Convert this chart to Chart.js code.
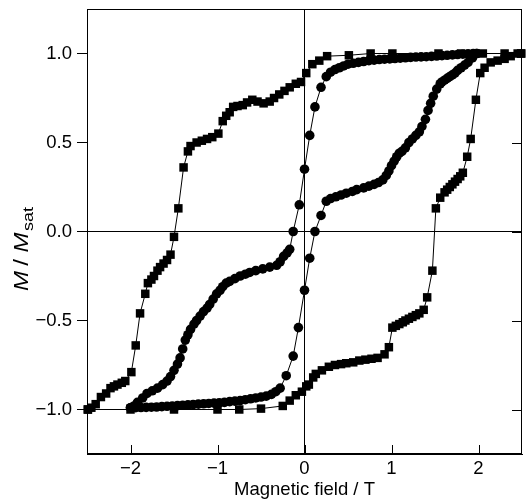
<!DOCTYPE html>
<html><head><meta charset="utf-8">
<script src="https://cdn.jsdelivr.net/npm/chart.js@4.4.1/dist/chart.umd.min.js"></script>
<style>html,body{margin:0;padding:0;background:#fff;}canvas{display:block;}</style>
</head><body>
<canvas id="c" width="528" height="501"></canvas>
<script>
// ---- tick values ----
const xTicks = [-2, -1, 0, 1, 2];
const yTicks = [-1, -0.5, 0, 0.5, 1];

// ---- squares: descending branch (field +2.5 -> -2.5) ----
const sqDownX = [2.49, 2.3, 2.05, 1.8, 1.54, 1.01, 0.76, 0.51, 0.26, 0.17, 0.09, 0.02, -0.04, -0.1, -0.17, -0.23, -0.29, -0.35, -0.4, -0.47, -0.54, -0.6, -0.66, -0.71, -0.77, -0.82, -0.86, -0.9, -0.94, -0.99, -1.06, -1.12, -1.18, -1.24, -1.31, -1.34, -1.39, -1.45, -1.5, -1.54, -1.58, -1.62, -1.66, -1.69, -1.73, -1.76, -1.8, -1.83, -1.89, -1.94, -1.99, -2.06, -2.1, -2.15, -2.19, -2.23, -2.28, -2.34, -2.4, -2.45, -2.49];
const sqDownY = [1.0, 1.0, 1.0, 1.0, 1.0, 1.0, 1.0, 0.99, 0.985, 0.96, 0.94, 0.89, 0.84, 0.83, 0.81, 0.79, 0.77, 0.75, 0.73, 0.72, 0.73, 0.74, 0.725, 0.71, 0.705, 0.70, 0.67, 0.65, 0.62, 0.55, 0.53, 0.52, 0.51, 0.50, 0.48, 0.45, 0.36, 0.13, -0.03, -0.13, -0.16, -0.18, -0.2, -0.22, -0.25, -0.27, -0.29, -0.35, -0.46, -0.64, -0.79, -0.84, -0.85, -0.86, -0.87, -0.88, -0.91, -0.93, -0.97, -0.99, -1.0];

// ---- squares: ascending branch (field -2.5 -> +2.5) ----
const sqUpX = [-2.49, -2.0, -1.5, -1.0, -0.75, -0.5, -0.25, -0.17, -0.1, -0.03, 0.02, 0.05, 0.1, 0.13, 0.2, 0.28, 0.35, 0.42, 0.48, 0.56, 0.63, 0.7, 0.77, 0.84, 0.92, 0.97, 1.01, 1.05, 1.09, 1.13, 1.16, 1.2, 1.24, 1.28, 1.32, 1.37, 1.41, 1.47, 1.51, 1.56, 1.61, 1.64, 1.67, 1.7, 1.73, 1.76, 1.79, 1.82, 1.87, 1.91, 1.97, 2.02, 2.07, 2.14, 2.22, 2.3, 2.37, 2.45, 2.49];
const sqUpY = [-1.0, -1.0, -1.0, -1.0, -1.0, -0.995, -0.98, -0.95, -0.92, -0.9, -0.87, -0.86, -0.82, -0.8, -0.78, -0.76, -0.75, -0.745, -0.74, -0.735, -0.725, -0.72, -0.715, -0.71, -0.69, -0.65, -0.54, -0.53, -0.52, -0.51, -0.5, -0.49, -0.48, -0.47, -0.46, -0.44, -0.37, -0.22, 0.13, 0.19, 0.22, 0.235, 0.25, 0.265, 0.28, 0.295, 0.31, 0.33, 0.42, 0.52, 0.74, 0.89, 0.92, 0.95, 0.96, 0.97, 0.985, 1.0, 1.0];

// ---- circles: ascending branch (field -2 -> +2) ----
const ciUpX = [-2.0, -1.96, -1.92, -1.86, -1.81, -1.75, -1.69, -1.63, -1.58, -1.54, -1.5, -1.46, -1.43, -1.4, -1.37, -1.34, -1.31, -1.27, -1.24, -1.2, -1.16, -1.12, -1.09, -1.05, -1.01, -0.97, -0.94, -0.9, -0.86, -0.8, -0.74, -0.68, -0.63, -0.56, -0.48, -0.4, -0.32, -0.28, -0.24, -0.2, -0.17, -0.13, -0.06, 0.0, 0.06, 0.12, 0.19, 0.25, 0.3, 0.35, 0.4, 0.45, 0.5, 0.56, 0.62, 0.68, 0.74, 0.8, 0.86, 0.92, 0.98, 1.04, 1.1, 1.16, 1.22, 1.28, 1.34, 1.4, 1.46, 1.52, 1.58, 1.64, 1.7, 1.76, 1.82, 1.88, 1.94, 1.98];
const ciUpY = [-0.99, -0.98, -0.96, -0.935, -0.91, -0.895, -0.88, -0.86, -0.84, -0.815, -0.78, -0.745, -0.71, -0.66, -0.61, -0.58, -0.55, -0.52, -0.5, -0.475, -0.45, -0.43, -0.41, -0.38, -0.35, -0.33, -0.31, -0.29, -0.28, -0.265, -0.25, -0.24, -0.23, -0.22, -0.21, -0.2, -0.19, -0.17, -0.14, -0.12, -0.1, 0.0, 0.15, 0.35, 0.54, 0.70, 0.81, 0.87, 0.895, 0.91, 0.92, 0.93, 0.94, 0.945, 0.95, 0.955, 0.96, 0.963, 0.966, 0.968, 0.97, 0.972, 0.974, 0.976, 0.978, 0.98, 0.981, 0.982, 0.984, 0.986, 0.988, 0.99, 0.992, 0.994, 0.996, 0.998, 1.0, 1.0];

// ---- circles: descending branch (field +2 -> -2) ----
const ciDownX = [1.98, 1.93, 1.88, 1.84, 1.8, 1.76, 1.73, 1.7, 1.67, 1.64, 1.61, 1.58, 1.56, 1.52, 1.48, 1.45, 1.42, 1.39, 1.35, 1.32, 1.28, 1.24, 1.2, 1.16, 1.12, 1.09, 1.06, 1.03, 1.0, 0.97, 0.94, 0.9, 0.85, 0.8, 0.74, 0.68, 0.6, 0.55, 0.48, 0.42, 0.36, 0.3, 0.25, 0.19, 0.12, 0.06, 0.0, -0.07, -0.13, -0.21, -0.28, -0.33, -0.38, -0.44, -0.5, -0.56, -0.62, -0.68, -0.74, -0.8, -0.86, -0.92, -0.98, -1.04, -1.1, -1.16, -1.22, -1.28, -1.34, -1.4, -1.46, -1.52, -1.58, -1.64, -1.7, -1.76, -1.82, -1.88, -1.94, -2.0];
const ciDownY = [1.0, 0.975, 0.95, 0.935, 0.92, 0.905, 0.89, 0.88, 0.87, 0.86, 0.85, 0.84, 0.83, 0.80, 0.76, 0.72, 0.68, 0.63, 0.59, 0.56, 0.54, 0.52, 0.5, 0.47, 0.45, 0.44, 0.42, 0.395, 0.37, 0.34, 0.315, 0.29, 0.275, 0.265, 0.255, 0.245, 0.235, 0.225, 0.215, 0.205, 0.195, 0.185, 0.17, 0.09, 0.0, -0.15, -0.33, -0.54, -0.7, -0.81, -0.88, -0.9, -0.915, -0.925, -0.93, -0.935, -0.94, -0.945, -0.95, -0.953, -0.956, -0.96, -0.962, -0.964, -0.966, -0.968, -0.97, -0.972, -0.974, -0.976, -0.978, -0.98, -0.982, -0.984, -0.986, -0.987, -0.988, -0.989, -0.99, -0.99];

const pts = (xs, ys) => xs.map((x, i) => ({x: x, y: ys[i]}));
const FONT = 'Liberation Sans, Arial, Helvetica, sans-serif';
const minus = s => s.replace('-', '\u2212');

function ds(xs, ys, style, r) {
  return {
    data: pts(xs, ys), showLine: true, borderColor: '#000', borderWidth: 1,
    backgroundColor: '#000', pointBackgroundColor: '#000', pointBorderColor: '#000',
    pointBorderWidth: 0, pointStyle: style, pointRadius: r, pointHoverRadius: r,
    tension: 0, clip: false
  };
}

const framePlugin = {
  id: 'frame',
  afterDraw(chart) {
    const {ctx, chartArea: a, scales} = chart;
    ctx.save();
    ctx.strokeStyle = '#000';
    ctx.lineWidth = 1;
    ctx.strokeRect(Math.round(a.left) + 0.5, Math.round(a.top) + 0.5,
                   Math.round(a.right - a.left) - 1, Math.round(a.bottom - a.top) - 1);
    ctx.beginPath();
    xTicks.forEach(v => {
      const px = Math.round(scales.x.getPixelForValue(v)) + 0.5;
      ctx.moveTo(px, a.bottom); ctx.lineTo(px, a.bottom - 9);
    });
    yTicks.forEach(v => {
      const py = Math.round(scales.y.getPixelForValue(v)) + 0.5;
      ctx.moveTo(a.right, py); ctx.lineTo(a.right - 10, py);
    });
    ctx.stroke();
    // y-axis title: M / M_sat
    ctx.translate(28, 291);
    ctx.rotate(-Math.PI / 2);
    ctx.scale(1.2, 1);
    ctx.fillStyle = '#000';
    ctx.textBaseline = 'alphabetic';
    ctx.textAlign = 'left';
    ctx.font = 'italic 20px ' + FONT;
    ctx.fillText('M', 0, 0);
    ctx.font = '20px ' + FONT;
    ctx.fillText('/', 21, 0);
    ctx.font = 'italic 20px ' + FONT;
    ctx.fillText('M', 32, 0);
    ctx.font = '15px ' + FONT;
    ctx.fillText('sat', 50, 5);
    ctx.restore();
  }
};

new Chart(document.getElementById('c'), {
  type: 'scatter',
  data: {
    datasets: [
      ds(sqDownX, sqDownY, 'rect', 6),
      ds(sqUpX, sqUpY, 'rect', 6),
      ds(ciUpX, ciUpY, 'circle', 4.8),
      ds(ciDownX, ciDownY, 'circle', 4.8)
    ]
  },
  options: {
    responsive: false, animation: false, devicePixelRatio: 1,
    layout: {padding: {top: 9, right: 3, left: 0, bottom: 0}},
    plugins: {legend: {display: false}, tooltip: {enabled: false}},
    scales: {
      x: {
        type: 'linear', min: -2.5, max: 2.5,
        afterBuildTicks: s => { s.ticks = xTicks.map(v => ({value: v})); },
        afterFit: s => { s.height = 47; s.paddingLeft = 0; s.paddingRight = 0; },
        ticks: {color: '#000', font: {family: FONT, size: 18.5}, padding: 4,
                maxRotation: 0, callback: v => minus(String(v))},
        grid: {drawTicks: false, lineWidth: 1,
               color: c => (c.tick && c.tick.value === 0) ? '#000' : 'rgba(0,0,0,0)'},
        border: {display: true, color: '#000', width: 1},
        title: {display: true, text: 'Magnetic field / T', color: '#000',
                font: {family: FONT, size: 18.5}, padding: {top: 0, bottom: 0}}
      },
      y: {
        type: 'linear', min: -1.25, max: 1.25,
        afterBuildTicks: s => { s.ticks = yTicks.map(v => ({value: v})); },
        afterFit: s => { s.width = 87; s.paddingTop = 0; s.paddingBottom = 0; },
        ticks: {color: '#000', font: {family: FONT, size: 18.5}, padding: 5,
                callback: v => minus(v.toFixed(1))},
        grid: {drawTicks: true, tickLength: 10, lineWidth: 1, tickColor: '#000',
               color: c => (c.tick && c.tick.value === 0) ? '#000' : 'rgba(0,0,0,0)'},
        border: {display: true, color: '#000', width: 1}
      }
    }
  },
  plugins: [framePlugin]
});
</script>
</body></html>
